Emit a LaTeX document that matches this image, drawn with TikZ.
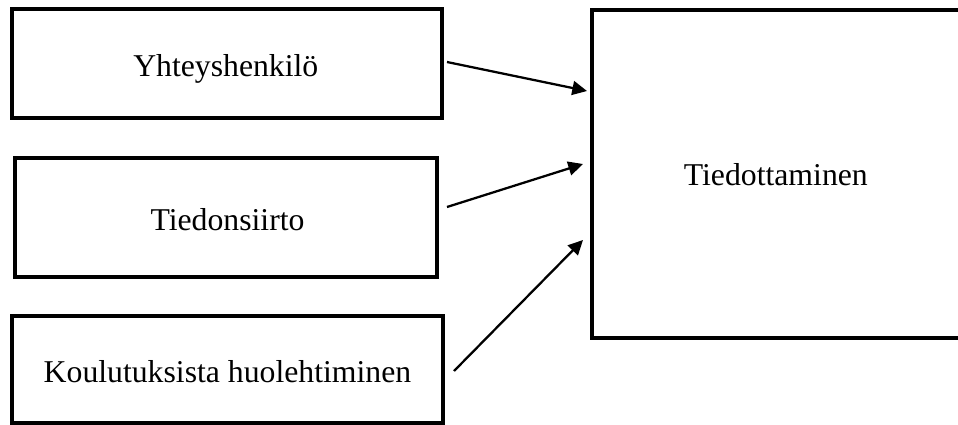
\documentclass[tikz,border=0pt]{standalone}
\usepackage{fontspec}
\setmainfont{Liberation Serif}
\usetikzlibrary{arrows.meta}
\begin{document}
\begin{tikzpicture}[x=0.75pt,y=-0.75pt,
  box/.style={draw=black,line width=3.5pt,fill=none,inner sep=0pt,
    minimum width=#1},
  lbl/.style={anchor=base,inner sep=0pt,font=\fontsize{23.8}{28}\selectfont},
  link/.style={line width=1.7pt,-{Triangle[length=11pt,width=10.5pt]}}]
  \useasboundingbox (0,0) rectangle (958,425);
  % left column of boxes
  \node[box=322.5pt,minimum height=81.75pt] (b1) at (227,63.5) {};
  \node[box=316.5pt,minimum height=89.25pt] (b2) at (226,217.5) {};
  \node[box=323.25pt,minimum height=80.25pt] (b3) at (227.5,369.5) {};
  % target box, running off the right edge
  \node[box=277.5pt,minimum height=246pt] (t) at (777,174) {};
  % texts
  \node[lbl] (l1) at (225.8,76) {Yhteyshenkilö};
  \node[lbl] (l2) at (227.5,230) {Tiedonsiirto};
  \node[lbl] (l3) at (227.5,382) {Koulutuksista huolehtiminen};
  \node[lbl] (lt) at (775.8,185) {Tiedottaminen};
  % arrow ends
  \coordinate (s1) at (447,62);
  \coordinate (e1) at (587,91);
  \coordinate (s2) at (447,207);
  \coordinate (e2) at (583,164);
  \coordinate (s3) at (454,371);
  \coordinate (e3) at (583,240);
  \draw[link] (s1) -- (e1);
  \draw[link] (s2) -- (e2);
  \draw[link] (s3) -- (e3);
\end{tikzpicture}
\end{document}
